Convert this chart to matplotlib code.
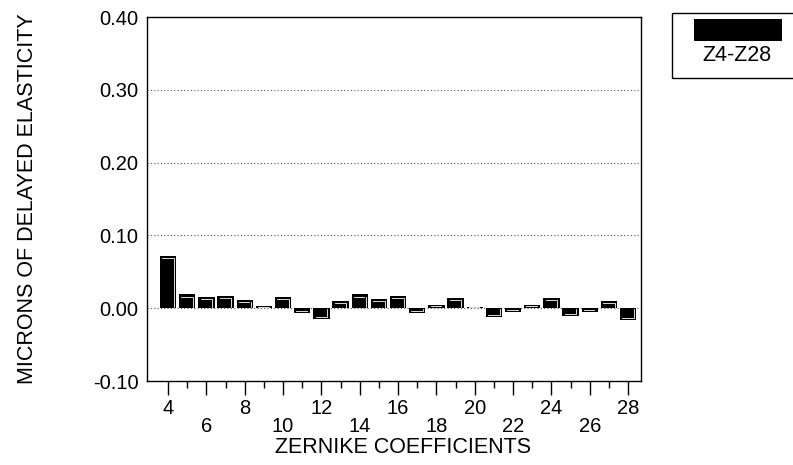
import matplotlib
matplotlib.use("Agg")
from matplotlib import pyplot as plt
from matplotlib.patches import Rectangle

plt.rcParams["font.family"] = ["Liberation Sans", "DejaVu Sans"]

# Zernike coefficient index and values (microns)
coefs = list(range(4, 29))
values = [0.072, 0.019, 0.016, 0.017, 0.011, 0.003, 0.016, -0.006, -0.015, 0.010,
          0.019, 0.013, 0.017, -0.007, 0.005, 0.014, 0.002, -0.012, -0.005, 0.005,
          0.014, -0.011, -0.005, 0.010, -0.016]
y_ticks = [-0.10, 0.00, 0.10, 0.20, 0.30, 0.40]
series_name = "Z4-Z28"

#=========================================================================================

fig = plt.figure(figsize=(7.93, 4.65), dpi=100)
ax = fig.add_axes([0.1854, 0.1806, 0.6229, 0.7828])

width = 0.85
ax.bar(coefs, values, width=width, color="black", zorder=3)

# thin white bevel lines to mimic the 3D look of the bars
dx = 0.12
for x, v in zip(coefs, values):
    x0, x1 = x - width / 2, x + width / 2
    s = 1 if v >= 0 else -1
    dy = min(0.003, abs(v) * 0.4) * s
    ax.plot([x0 + dx, x1 - dx * 1.5], [v - dy, v - dy], color="white", lw=0.6, zorder=4)
    if abs(v) > 0.006:
        ax.plot([x1 - dx, x1 - dx], [v - dy, dy * 0.5], color="white", lw=0.6, zorder=4)

# dotted grid
for yv in [0.0, 0.1, 0.2, 0.3]:
    ax.axhline(yv, color="#555555", lw=0.8, ls=(0, (1, 2)), zorder=1)

ax.set_xlim(2.9, 28.67)
ax.set_ylim(-0.10, 0.40)
ax.set_yticks(y_ticks)
ax.set_yticklabels([f"{t:.2f}" for t in y_ticks], fontsize=14.5)
ax.tick_params(axis="y", length=0, pad=6)

even = [c for c in coefs if c % 2 == 0]
odd = [c for c in coefs if c % 2 == 1]
ax.set_xticks(even)
ax.set_xticklabels([str(c) if i % 2 == 0 else "\n" + str(c) for i, c in enumerate(even)],
                   fontsize=14.5, linespacing=0.9)
ax.set_xticks(odd, minor=True)
ax.tick_params(axis="x", which="major", length=10, width=1, pad=3, direction="out")
ax.tick_params(axis="x", which="minor", length=5, width=1, direction="out")

for sp in ax.spines.values():
    sp.set_linewidth(1)

fig.text(0.5088, 1 - 447 / 465, "ZERNIKE COEFFICIENTS", ha="center", va="center", fontsize=15.5)
fig.text(0.035, 0.5725, "MICRONS OF DELAYED ELASTICITY", rotation=90,
         ha="center", va="center", fontsize=15.5)

# legend box at top right
fig.patches.append(Rectangle((0.847, 0.832), 0.17, 0.140, transform=fig.transFigure,
                             fill=False, edgecolor="black", lw=1))
fig.patches.append(Rectangle((0.875, 0.912), 0.111, 0.047, transform=fig.transFigure,
                             facecolor="black", edgecolor="none"))
fig.text(0.929, 0.880, series_name, ha="center", va="center", fontsize=15.5)

fig.savefig("out.png", dpi=100)
